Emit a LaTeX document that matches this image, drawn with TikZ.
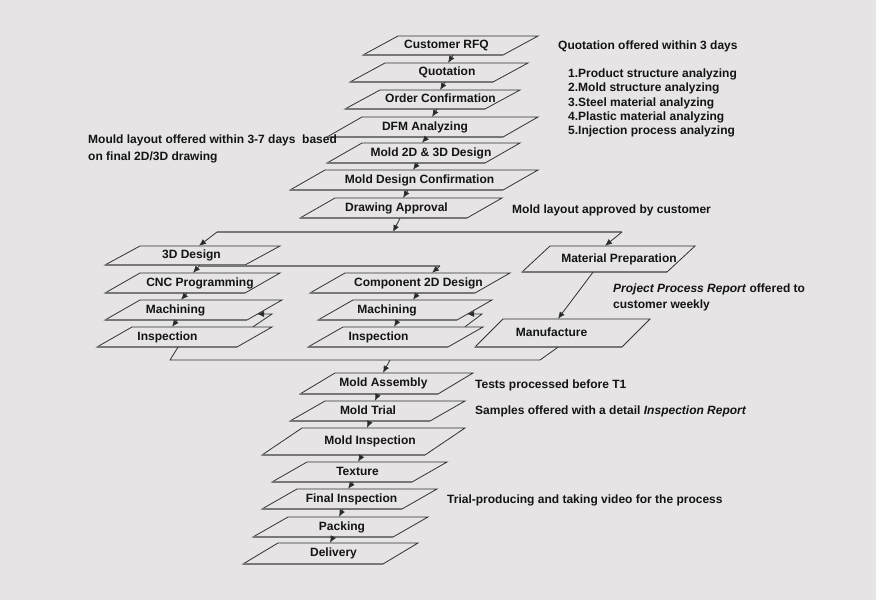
\documentclass[tikz,border=0pt]{standalone}
\usepackage{fontspec}
\setmainfont{Liberation Sans}
\usetikzlibrary{arrows.meta}
\definecolor{bgc}{RGB}{230,228,228}
\definecolor{edge}{RGB}{50,50,50}
\definecolor{edgegray}{RGB}{120,120,120}
\definecolor{ink}{RGB}{20,20,20}
\tikzset{
  boxline/.style={draw=edge, line width=0.8pt, line join=miter},
  boxbottom/.style={draw=edgegray, line width=1.5pt},
  boxtext/.style={inner sep=0pt, text=ink, font=\fontsize{12}{14.3}\selectfont\bfseries, text height=9pt, text depth=2.5pt},
  note/.style={anchor=west, inner sep=0pt, text=ink, font=\fontsize{12}{14.3}\selectfont\bfseries, align=left},
  conn/.style={draw=edge, line width=0.8pt},
  busgray/.style={draw=edgegray, line width=1.5pt},
  arr/.style={draw=edge, line width=0.8pt, -{Latex[length=7pt,width=6pt,fill=black!85]}},
}
\newcommand\pgbox[8]{%
  \draw[boxline] (#2,#5) -- (#2+#6,#4) -- (#3,#4) -- (#3-#6,#5) -- cycle;
  \draw[boxbottom] (#2,#5) -- (#3-#6,#5);
  \pgfmathsetmacro\pgh{#5-#4}%
  \pgfmathsetmacro\pgm{(#4+#5)/2}%
  \node[boxtext, minimum height=\pgh pt] (#1) at (#7,\pgm) {#8};
}
\begin{document}
\begin{tikzpicture}[x=1pt,y=-1pt]
\fill[bgc] (0,0) rectangle (876,600);
\useasboundingbox (0,0) rectangle (876,600);

% main column
\pgbox{rfq}{363}{538}{36}{55}{35}{446.5}{Customer RFQ}
\pgbox{quot}{350}{528}{63}{82}{35}{447}{Quotation}
\pgbox{order}{345}{520}{90}{109}{35}{440.5}{Order Confirmation}
\pgbox{dfm}{327}{538}{117}{137}{35}{425}{DFM Analyzing}
\pgbox{mtd}{327}{520}{143}{163}{35}{431}{Mold 2D \& 3D Design}
\pgbox{mdc}{290}{538}{170}{190}{35}{419.5}{Mold Design Confirmation}
\pgbox{drw}{300}{502}{198}{218}{35}{396.5}{Drawing Approval}

% branches
\pgbox{d3}{105}{280}{246}{265}{35}{191.5}{3D Design}
\pgbox{cnc}{105}{280}{273}{293}{35}{200}{CNC Programming}
\pgbox{machL}{105}{282}{300}{320}{35}{175.5}{Machining}
\pgbox{inspL}{97}{272}{327}{347}{35}{167.5}{Inspection}
\pgbox{comp}{310}{510}{273}{293}{35}{418.5}{Component 2D Design}
\pgbox{machM}{318}{492}{300}{320}{35}{387}{Machining}
\pgbox{inspM}{308}{483}{327}{347}{35}{378.5}{Inspection}
\pgbox{mat}{522}{695}{246}{272}{28}{619}{Material Preparation}
\pgbox{manuf}{475}{650}{319}{347}{28}{551.5}{Manufacture}

% lower column
\pgbox{asm}{300}{473}{373}{394}{35}{383.5}{Mold Assembly}
\pgbox{trial}{290}{465}{401}{421}{35}{368}{Mold Trial}
\pgbox{minsp}{262}{465}{428}{455}{40}{370}{Mold Inspection}
\pgbox{tex}{272}{447}{462}{482}{35}{357.5}{Texture}
\pgbox{fin}{262}{437}{489}{509}{35}{351.5}{Final Inspection}
\pgbox{pack}{253}{428}{517}{537}{35}{342}{Packing}
\pgbox{del}{243}{418}{543}{564}{35}{333.5}{Delivery}

% connector coordinates
\coordinate (busL) at (217,232);
\coordinate (busR) at (622,232);
\coordinate (busA) at (393,232);
\coordinate (b2L) at (200,266);
\coordinate (b2R) at (440,266);
\coordinate (fbL) at (272,314);
\coordinate (fbLend) at (257,314);
\coordinate (fbM) at (482,314);
\coordinate (fbMend) at (467,314);
\coordinate (mL) at (170,360);
\coordinate (mR) at (540,360);
\coordinate (mA) at (390,360);

% main chain arrows
\draw[arr] ([xshift=6.5]rfq.south) -- ([xshift=1]quot.north);
\draw[arr] ([xshift=-2]quot.south) -- ([xshift=-0.5]order.north);
\draw[arr] ([xshift=-3.5]order.south) -- ([xshift=7]dfm.north);
\draw[arr] ([xshift=2]dfm.south) -- ([xshift=-9]mtd.north);
\draw[arr] ([xshift=-13]mtd.south) -- ([xshift=-6.5]mdc.north);
\draw[arr] ([xshift=-11.5]mdc.south) -- ([xshift=6.5]drw.north);
\draw[arr] ([xshift=3.5]drw.south) -- (busA);

% first bus
\draw[busgray] (busL) -- (busR);
\draw[arr] (busL) -- ([xshift=7.5]d3.north);
\draw[arr] (busR) -- ([xshift=-14]mat.north);

% second bus
\draw[busgray] (b2L) -- (b2R);
\draw[arr] (b2R) -- ([xshift=13.5]comp.north);
\draw[arr] ([xshift=8.5]d3.south) -- ([xshift=-7]cnc.north);

% branch chains
\draw[arr] ([xshift=-13]cnc.south) -- ([xshift=5.5]machL.north);
\draw[arr] ([xshift=1.5]machL.south) -- ([xshift=4.5]inspL.north);
\draw[arr] ([xshift=-0.5]comp.south) -- ([xshift=26]machM.north);
\draw[arr] ([xshift=11]machM.south) -- ([xshift=15.5]inspM.north);
\draw[arr] ([xshift=-26]mat.south) -- ([xshift=6.5]manuf.north);

% feedback loops
\draw[arr] ([xshift=85.5]inspL.north) -- (fbL) -- (fbLend);
\draw[arr] ([xshift=86.5]inspM.north) -- (fbM) -- (fbMend);

% merge bus
\draw[conn] ([xshift=10.5]inspL.south) -- (mL) -- (mR) -- ([xshift=6.5]manuf.south);
\draw[arr] (mA) -- ([xshift=-0.5]asm.north);

% lower chain
\draw[arr] ([xshift=-5.5]asm.south) -- ([xshift=7]trial.north);
\draw[arr] ([xshift=2]trial.south) -- ([xshift=-3]minsp.north);
\draw[arr] ([xshift=-8]minsp.south) -- ([xshift=0.5]tex.north);
\draw[arr] ([xshift=-4.5]tex.south) -- ([xshift=-3.5]fin.north);
\draw[arr] ([xshift=-8.5]fin.south) -- ([xshift=-3]pack.north);
\draw[arr] ([xshift=-9]pack.south) -- ([xshift=-3.5]del.north);

% notes
\node[note] (n1) at (558,46) {Quotation offered within 3 days};
\node[note] (n2) at (568,103) {1.Product structure analyzing\\2.Mold structure analyzing\\3.Steel material analyzing\\4.Plastic material analyzing\\5.Injection process analyzing};
\node[note] (n3) at (88,149) {Mould layout offered within 3-7 days\ \ based\\[2pt]on final 2D/3D drawing};
\node[note] (n4) at (512,210) {Mold layout approved by customer};
\node[note] (n5) at (613,297.5) {\textit{Project Process Report} offered to\\[1pt]customer weekly};
\node[note] (n6) at (475,385) {Tests processed before T1};
\node[note] (n7) at (475,411) {Samples offered with a detail \textit{Inspection Report}};
\node[note] (n8) at (447,500) {Trial-producing and taking video for the process};
\end{tikzpicture}
\end{document}
